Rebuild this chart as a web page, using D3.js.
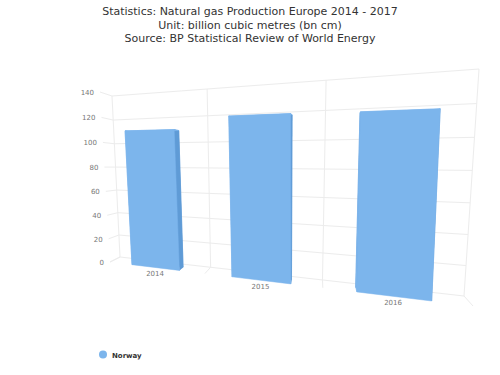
<!DOCTYPE html>
<html><head><meta charset="utf-8">
<script src="https://cdnjs.cloudflare.com/ajax/libs/d3/7.8.5/d3.min.js"></script>
<style>html,body{margin:0;padding:0;background:#fff}svg{display:block}text{font-family:"DejaVu Sans",sans-serif}</style>
</head><body><svg id="c" width="500" height="375"></svg>
<script>
const categories = ["2014","2015","2016"];
const norway = [108.8,117.2,116.6];
const yTicks = [0,20,40,60,80,100,120,140];
const titleLines = ["Statistics: Natural gas Production Europe 2014 - 2017","Unit: billion cubic metres (bn cm)","Source: BP Statistical Review of World Energy"];
const seriesName = "Norway";

// plot planes on screen: bottom-left, bottom-right, top-right, top-left
const frontQuad = [[110,262],[473,306],[487,64],[100,92]];
const backQuad  = [[120,257],[464,296],[479,69],[112,96]];
const barDepth = 0.55;

function homography(q){
  const [[x0,y0],[x1,y1],[x2,y2],[x3,y3]] = q;
  const dx1=x1-x2, dx2=x3-x2, sx=x0-x1+x2-x3, dy1=y1-y2, dy2=y3-y2, sy=y0-y1+y2-y3;
  const den=dx1*dy2-dx2*dy1;
  const g=(sx*dy2-dx2*sy)/den, h=(dx1*sy-sx*dy1)/den;
  const a=x1-x0+g*x1, b=x3-x0+h*x3, d=y1-y0+g*y1, e=y3-y0+h*y3;
  return (u,v)=>{const w=g*u+h*v+1; return [(a*u+b*v+x0)/w,(d*u+e*v+y0)/w];};
}
const front=homography(frontQuad), back=homography(backQuad);
const P=(u,v,z)=>{const f=front(u,v),b=back(u,v);return [f[0]+(b[0]-f[0])*z,f[1]+(b[1]-f[1])*z];};

const xBand=d3.scaleBand().domain(categories).range([0,1]).paddingInner(0.5).paddingOuter(0.25);
const xEdge=d3.scaleLinear().domain([0,categories.length]).range([0,1]);
const yV=d3.scaleLinear().domain([0,140]).range([0,1]);

const svg=d3.select("#c");
const line=d3.line();
const gridColor="#ececec";
const g=svg.append("g").attr("fill","none").attr("stroke",gridColor).attr("stroke-width",1);
yTicks.forEach(t=>{const v=yV(t);
  g.append("path").attr("d",line([P(0,v,1),P(.25,v,1),P(.5,v,1),P(.75,v,1),P(1,v,1)]));
  g.append("path").attr("d",line([P(0,v,0),P(0,v,1)]));
});
d3.range(categories.length+1).forEach(i=>{const u=xEdge(i);
  g.append("path").attr("d",line([P(u,0,1),P(u,1,1)]));
  g.append("path").attr("d",line([P(u,0,0),P(u,0,1)]));
});

const faces=svg.append("g");
const sideColor="#5f9bd6", frontColor="#7cb5ec";
categories.forEach((c,i)=>{
  const u0=xBand(c),u1=u0+xBand.bandwidth(),v=yV(norway[i]),v0=yV(0);
  const poly=(pts,col)=>faces.append("path").attr("d",line(pts)+"Z").attr("fill",col).attr("stroke",col).attr("stroke-width",.5);
  poly([P(u0,v0,barDepth),P(u1,v0,barDepth),P(u1,v,barDepth),P(u0,v,barDepth)],sideColor);
  poly([P(u1,v0,0),P(u1,v,0),P(u1,v,barDepth),P(u1,v0,barDepth)],sideColor);
  poly([P(u0,v,0),P(u1,v,0),P(u1,v,barDepth),P(u0,v,barDepth)],frontColor);
  poly([P(u0,v0,0),P(u0,v,0),P(u0,v,barDepth),P(u0,v0,barDepth)],frontColor);
  poly([P(u0,v0,0),P(u1,v0,0),P(u1,v,0),P(u0,v,0)],frontColor);
});

svg.append("g").selectAll("text").data(titleLines).join("text")
  .attr("x",250).attr("y",(d,i)=>15+i*13.5).attr("text-anchor","middle")
  .attr("font-size",11).attr("fill","#333").text(d=>d);

svg.append("g").selectAll("text").data(yTicks).join("text")
  .attr("x",d=>P(0,yV(d),0)[0]-6).attr("y",d=>P(0,yV(d),0)[1]+3)
  .attr("text-anchor","end").attr("font-size",7).attr("fill","#777").text(d=>d);

svg.append("g").selectAll("text").data(categories).join("text")
  .attr("x",d=>P(xBand(d)+xBand.bandwidth()/2,0,0)[0])
  .attr("y",d=>P(xBand(d)+xBand.bandwidth()/2,0,0)[1]+9)
  .attr("text-anchor","middle").attr("font-size",7).attr("fill","#777").text(d=>d);

svg.append("circle").attr("cx",103).attr("cy",354.5).attr("r",4).attr("fill",frontColor);
svg.append("text").attr("x",112).attr("y",357.5).attr("font-size",7).attr("font-weight","bold").attr("fill","#333").text(seriesName);
</script></body></html>
